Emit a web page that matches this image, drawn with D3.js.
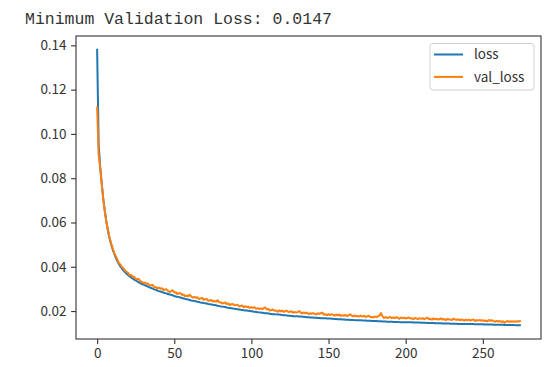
<!DOCTYPE html>
<html>
<head>
<meta charset="utf-8">
<script src="https://cdn.jsdelivr.net/npm/d3@7"></script>
<style>
  html, body { margin: 0; padding: 0; background: #fff; }
  svg { display: block; }
</style>
</head>
<body>
<svg id="chart" width="553" height="367"></svg>
<script>
// Training history: loss per epoch (0..274)
const loss = [
  0.1380, 0.0950, 0.0850, 0.0775, 0.0705, 0.0650, 0.0603, 0.0563, 0.0530, 0.0503,
  0.0480, 0.0460, 0.0442, 0.0427, 0.0414, 0.0403, 0.0393, 0.0384, 0.0376, 0.0369,
  0.0363, 0.0357, 0.0352, 0.0347, 0.0342, 0.0338, 0.0334, 0.0330, 0.0326, 0.0322,
  0.0319, 0.0316, 0.0313, 0.0310, 0.0307, 0.0304, 0.0301, 0.0298, 0.0296, 0.0293,
  0.0290, 0.0288, 0.0286, 0.0283, 0.0281, 0.0279, 0.0277, 0.0275, 0.0273, 0.0271,
  0.0268, 0.0266, 0.0264, 0.0263, 0.0261, 0.0259, 0.0257, 0.0255, 0.0253, 0.0252,
  0.0250, 0.0248, 0.0247, 0.0245, 0.0244, 0.0242, 0.0241, 0.0239, 0.0238, 0.0236,
  0.0235, 0.0234, 0.0232, 0.0231, 0.0230, 0.0228, 0.0227, 0.0226, 0.0224, 0.0223,
  0.0221, 0.0220, 0.0219, 0.0218, 0.0216, 0.0215, 0.0214, 0.0213, 0.0212, 0.0210,
  0.0209, 0.0208, 0.0207, 0.0206, 0.0205, 0.0204, 0.0203, 0.0202, 0.0201, 0.0200,
  0.0199, 0.0198, 0.0197, 0.0196, 0.0195, 0.0194, 0.0193, 0.0192, 0.0191, 0.0190,
  0.0190, 0.0189, 0.0188, 0.0187, 0.0186, 0.0186, 0.0185, 0.0184, 0.0184, 0.0183,
  0.0182, 0.0181, 0.0181, 0.0180, 0.0179, 0.0179, 0.0178, 0.0177, 0.0177, 0.0176,
  0.0176, 0.0175, 0.0175, 0.0174, 0.0174, 0.0173, 0.0172, 0.0172, 0.0171, 0.0171,
  0.0171, 0.0170, 0.0170, 0.0169, 0.0169, 0.0168, 0.0168, 0.0167, 0.0167, 0.0166,
  0.0166, 0.0166, 0.0165, 0.0165, 0.0164, 0.0164, 0.0163, 0.0163, 0.0163, 0.0162,
  0.0162, 0.0161, 0.0161, 0.0161, 0.0160, 0.0160, 0.0160, 0.0159, 0.0159, 0.0158,
  0.0158, 0.0158, 0.0157, 0.0157, 0.0157, 0.0156, 0.0156, 0.0156, 0.0155, 0.0155,
  0.0155, 0.0155, 0.0154, 0.0154, 0.0154, 0.0153, 0.0153, 0.0153, 0.0152, 0.0152,
  0.0152, 0.0152, 0.0151, 0.0151, 0.0151, 0.0151, 0.0150, 0.0150, 0.0150, 0.0150,
  0.0150, 0.0149, 0.0149, 0.0149, 0.0149, 0.0148, 0.0148, 0.0148, 0.0148, 0.0148,
  0.0147, 0.0147, 0.0147, 0.0147, 0.0146, 0.0146, 0.0146, 0.0146, 0.0146, 0.0145,
  0.0145, 0.0145, 0.0145, 0.0145, 0.0144, 0.0144, 0.0144, 0.0144, 0.0144, 0.0143,
  0.0143, 0.0143, 0.0143, 0.0143, 0.0142, 0.0142, 0.0142, 0.0142, 0.0142, 0.0142,
  0.0141, 0.0141, 0.0141, 0.0141, 0.0141, 0.0140, 0.0140, 0.0140, 0.0140, 0.0140,
  0.0140, 0.0139, 0.0139, 0.0139, 0.0139, 0.0139, 0.0139, 0.0138, 0.0138, 0.0138,
  0.0138, 0.0138, 0.0138, 0.0138, 0.0137, 0.0137, 0.0137, 0.0137, 0.0137, 0.0137,
  0.0137, 0.0136, 0.0136, 0.0136, 0.0136
];

// Validation loss per epoch (0..274)
const valLoss = [
  0.1120, 0.0905, 0.0845, 0.0772, 0.0703, 0.0650, 0.0604, 0.0566, 0.0533, 0.0507,
  0.0486, 0.0463, 0.0449, 0.0434, 0.0418, 0.0411, 0.0399, 0.0393, 0.0383, 0.0377,
  0.0373, 0.0362, 0.0363, 0.0355, 0.0355, 0.0345, 0.0345, 0.0345, 0.0333, 0.0333,
  0.0326, 0.0329, 0.0323, 0.0324, 0.0316, 0.0317, 0.0318, 0.0308, 0.0308, 0.0303,
  0.0306, 0.0301, 0.0303, 0.0295, 0.0297, 0.0298, 0.0291, 0.0286, 0.0290, 0.0294,
  0.0284, 0.0285, 0.0277, 0.0280, 0.0281, 0.0273, 0.0275, 0.0267, 0.0270, 0.0267,
  0.0274, 0.0266, 0.0261, 0.0264, 0.0260, 0.0262, 0.0254, 0.0257, 0.0259, 0.0251,
  0.0253, 0.0255, 0.0246, 0.0248, 0.0250, 0.0243, 0.0246, 0.0242, 0.0249, 0.0240,
  0.0240, 0.0234, 0.0237, 0.0239, 0.0231, 0.0234, 0.0227, 0.0231, 0.0232, 0.0226,
  0.0227, 0.0229, 0.0221, 0.0223, 0.0225, 0.0217, 0.0222, 0.0218, 0.0219, 0.0214,
  0.0218, 0.0214, 0.0217, 0.0210, 0.0213, 0.0209, 0.0212, 0.0209, 0.0213, 0.0216,
  0.0207, 0.0209, 0.0202, 0.0205, 0.0207, 0.0201, 0.0203, 0.0197, 0.0203, 0.0199,
  0.0202, 0.0196, 0.0200, 0.0202, 0.0195, 0.0197, 0.0199, 0.0192, 0.0196, 0.0193,
  0.0195, 0.0200, 0.0193, 0.0189, 0.0194, 0.0190, 0.0193, 0.0186, 0.0190, 0.0187,
  0.0191, 0.0187, 0.0185, 0.0190, 0.0187, 0.0190, 0.0193, 0.0183, 0.0186, 0.0181,
  0.0186, 0.0182, 0.0186, 0.0183, 0.0179, 0.0184, 0.0180, 0.0184, 0.0178, 0.0181,
  0.0180, 0.0182, 0.0177, 0.0181, 0.0185, 0.0179, 0.0176, 0.0180, 0.0176, 0.0178,
  0.0175, 0.0179, 0.0175, 0.0179, 0.0173, 0.0176, 0.0179, 0.0173, 0.0174, 0.0171,
  0.0175, 0.0173, 0.0176, 0.0179, 0.0191, 0.0176, 0.0169, 0.0173, 0.0169, 0.0171,
  0.0173, 0.0168, 0.0171, 0.0168, 0.0173, 0.0169, 0.0165, 0.0171, 0.0168, 0.0170,
  0.0166, 0.0169, 0.0171, 0.0166, 0.0168, 0.0163, 0.0169, 0.0166, 0.0164, 0.0168,
  0.0165, 0.0168, 0.0163, 0.0167, 0.0170, 0.0163, 0.0165, 0.0161, 0.0167, 0.0163,
  0.0165, 0.0161, 0.0164, 0.0167, 0.0161, 0.0164, 0.0159, 0.0165, 0.0162, 0.0162,
  0.0159, 0.0166, 0.0162, 0.0160, 0.0163, 0.0158, 0.0162, 0.0160, 0.0157, 0.0161,
  0.0158, 0.0161, 0.0157, 0.0160, 0.0162, 0.0155, 0.0159, 0.0157, 0.0160, 0.0156,
  0.0159, 0.0155, 0.0157, 0.0154, 0.0160, 0.0156, 0.0159, 0.0154, 0.0153, 0.0156,
  0.0152, 0.0155, 0.0151, 0.0154, 0.0147, 0.0152, 0.0155, 0.0151, 0.0154, 0.0152,
  0.0154, 0.0152, 0.0154, 0.0153, 0.0155
];

const xTicks = [0, 50, 100, 150, 200, 250];
const yTicks = [0.02, 0.04, 0.06, 0.08, 0.10, 0.12, 0.14];
const seriesNames = ["loss", "val_loss"];
const seriesColors = ["#1f77b4", "#ff7f0e"];

const svg = d3.select("#chart");
const plot = { left: 76, top: 36, right: 541, bottom: 339 };
const tickFont = "'Noto Sans CJK KR', 'Noto Sans', sans-serif";

// Title printed above the figure
const minVal = d3.min(valLoss);
svg.append("text")
  .attr("x", 25).attr("y", 24)
  .attr("font-family", "'Liberation Mono', 'DejaVu Sans Mono', monospace")
  .attr("font-size", 16.5)
  .attr("fill", "#333")
  .text("Minimum Validation Loss: " + minVal.toFixed(4));

// Scales with 5% padding around the data range
const nEpochs = loss.length;
const xPad = (nEpochs - 1) * 0.05;
const x = d3.scaleLinear()
  .domain([-xPad, nEpochs - 1 + xPad])
  .range([plot.left, plot.right]);

const allVals = loss.concat(valLoss);
const yLo = d3.min(allVals), yHi = d3.max(allVals);
const yPad = (yHi - yLo) * 0.05;
const y = d3.scaleLinear()
  .domain([yLo - yPad, yHi + yPad])
  .range([plot.bottom, plot.top]);

// Lines
const line = d3.line()
  .x((d, i) => x(i))
  .y(d => y(d));

[loss, valLoss].forEach((series, k) => {
  svg.append("path")
    .datum(series)
    .attr("fill", "none")
    .attr("stroke", seriesColors[k])
    .attr("stroke-width", 2)
    .attr("stroke-linejoin", "round")
    .attr("stroke-linecap", "square")
    .attr("d", line);
});

// Axes
const xAxis = svg.append("g")
  .attr("transform", `translate(0,${plot.bottom})`)
  .call(d3.axisBottom(x).tickValues(xTicks).tickSize(4.9).tickPadding(4.5).tickFormat(d3.format("d")));
const yAxis = svg.append("g")
  .attr("transform", `translate(${plot.left},0)`)
  .call(d3.axisLeft(y).tickValues(yTicks).tickSize(4.9).tickPadding(4.5).tickFormat(d3.format(".2f")));

[xAxis, yAxis].forEach(g => {
  g.select(".domain").remove();
  g.selectAll(".tick line").attr("stroke", "#333").attr("stroke-width", 1.1);
  g.selectAll(".tick text")
    .attr("font-family", tickFont)
    .attr("font-size", 13.5)
    .attr("fill", "#333");
});

// Frame
svg.append("rect")
  .attr("x", plot.left).attr("y", plot.top)
  .attr("width", plot.right - plot.left)
  .attr("height", plot.bottom - plot.top)
  .attr("fill", "none")
  .attr("stroke", "#333")
  .attr("stroke-width", 1.1);

// Legend
const legend = svg.append("g").attr("transform", "translate(430,43.5)");
legend.append("rect")
  .attr("width", 104).attr("height", 46.5)
  .attr("rx", 3).attr("ry", 3)
  .attr("fill", "#fff").attr("fill-opacity", 0.8)
  .attr("stroke", "#d0d0d0").attr("stroke-width", 1);

seriesNames.forEach((name, i) => {
  const cy = 11 + i * 22.4;
  legend.append("line")
    .attr("x1", 4).attr("x2", 33)
    .attr("y1", cy).attr("y2", cy)
    .attr("stroke", seriesColors[i])
    .attr("stroke-width", 2);
  legend.append("text")
    .attr("x", 44).attr("y", cy)
    .attr("dy", "0.35em")
    .attr("font-family", tickFont)
    .attr("font-size", 13.5)
    .attr("fill", "#333")
    .text(name);
});
</script>
</body>
</html>
